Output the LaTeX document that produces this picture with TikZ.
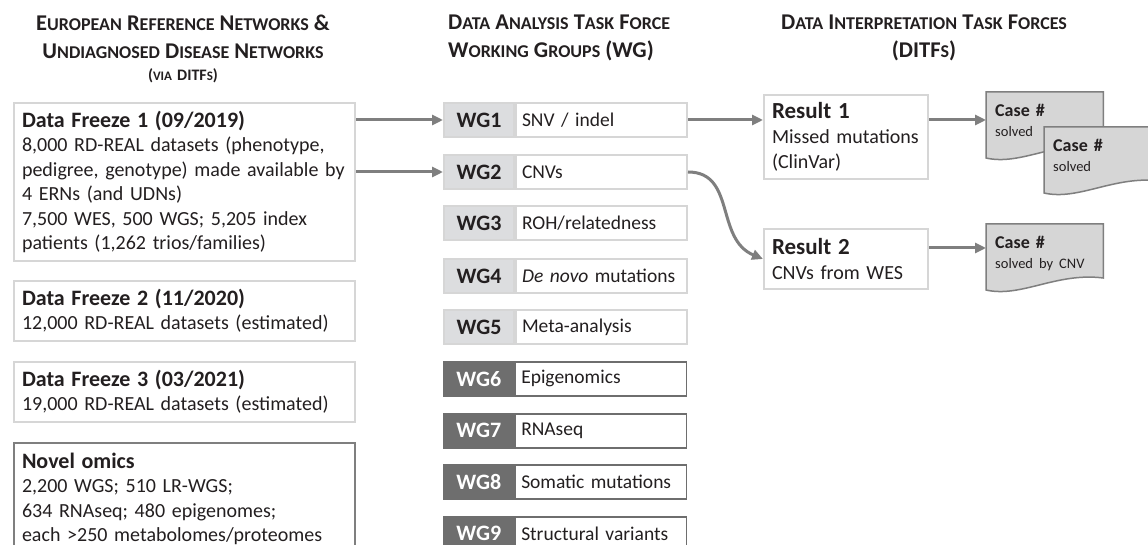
\documentclass[tikz,border=0pt]{standalone}
\usepackage{fontspec}
\setmainfont{Carlito}
\usetikzlibrary{arrows.meta,backgrounds,calc}
\definecolor{lb}{HTML}{D6D6D6}
\definecolor{lf}{HTML}{DCDDDF}
\definecolor{dk}{HTML}{6E6E6E}
\definecolor{ar}{HTML}{7F7F7F}
\definecolor{tx}{HTML}{231F20}
\definecolor{docf}{HTML}{D6D6D6}
\newcommand\hsc[2]{{\fontsize{22.5}{28}\selectfont#1}{\fontsize{18}{28}\selectfont#2}}
\newcommand\bt[1]{{\bfseries\fontsize{22}{24.4}\selectfont #1}}
\newcommand\rt[1]{{\bfseries\fontsize{23}{25}\selectfont #1}}
\newcommand\sv[1]{{\mdseries\fontsize{14.5}{18}\selectfont #1}}
\newcommand\docshape[1]{\filldraw[docsty] (#1.north west) -- (#1.north east) -- ([yshift=-54pt]#1.north east) .. controls ([xshift=-47pt,yshift=-48pt]#1.north east) and ([xshift=35pt,yshift=-74pt]#1.north west) .. ([yshift=-66pt]#1.north west) -- cycle;}
\tikzset{
  hdr/.style={align=center, inner sep=0pt, font=\bfseries\fontsize{22.5}{28}\selectfont},
  dfbox/.style={draw=lb, line width=2pt, fill=white, text width=325pt, inner xsep=8pt, align=left, anchor=north west, font=\fontsize{20}{24.4}\selectfont, minimum width=341pt},
  wgl/.style={minimum width=70pt, minimum height=34pt, inner sep=0pt, font=\bfseries\fontsize{22}{24}\selectfont, anchor=north west},
  wglight/.style={wgl, fill=lf, draw=lb, line width=2pt},
  wgdark/.style={wgl, fill=dk, draw=dk, text=white, line width=1.5pt},
  wgd/.style={minimum width=171pt, minimum height=34pt, inner xsep=6pt, inner ysep=0pt, text width=159pt, align=left, anchor=west, font=\fontsize{19.5}{22}\selectfont, fill=white},
  wgdlight/.style={wgd, draw=lb, line width=2pt},
  wgddark/.style={wgd, draw=dk, line width=1.5pt},
  res/.style={draw=lb, line width=2pt, fill=white, minimum width=164pt, text width=148pt, inner xsep=8pt, align=left, anchor=north west, font=\fontsize{20}{25}\selectfont},
  arr/.style={draw=ar, line width=3pt, -{Triangle[length=11pt,width=10pt]}},
  doc/.style={anchor=north west, minimum width=117pt, inner xsep=9pt, inner ysep=12pt, align=left, text width=99pt, font=\bfseries\fontsize{18}{20}\selectfont},
  docsty/.style={fill=docf, draw=ar, line width=1.5pt}
}
\begin{document}
\begin{tikzpicture}[x=1pt,y=-1pt, every node/.append style={text=tx}]
\path[use as bounding box] (0,0) rectangle (1148,545);
\clip (0,0) rectangle (1148,545);
\begin{pgfonlayer}{background}
\fill[white] (0,0) rectangle (1148,545);
\end{pgfonlayer}

% headers
\node[hdr, anchor=north] (h1) at (183,15) {\hsc{E}{UROPEAN} \hsc{R}{EFERENCE} \hsc{N}{ETWORKS} \&\\ \hsc{U}{NDIAGNOSED} \hsc{D}{ISEASE} \hsc{N}{ETWORKS}\\[-6pt] {\fontsize{16}{18}\selectfont(}{\fontsize{13}{18}\selectfont VIA} {\fontsize{16}{18}\selectfont DITF}{\fontsize{13}{18}\selectfont S}{\fontsize{16}{18}\selectfont)}};
\node[hdr, align=left, anchor=north west] (h2) at (448,15) {\hsc{D}{ATA} \hsc{A}{NALYSIS} \hsc{T}{ASK} \hsc{F}{ORCE}\\ \hsc{W}{ORKING} \hsc{G}{ROUPS} (WG)};
\node[hdr, anchor=north] (h3) at (924,15) {\hsc{D}{ATA} \hsc{I}{NTERPRETATION} \hsc{T}{ASK} \hsc{F}{ORCES}\\ (DITF\hsc{}{S})};

% data freeze boxes
\node[dfbox, minimum height=158pt] (df1) at (13,102) {\bt{Data Freeze 1 (09/2019)}\\ 8,000 RD-REAL datasets (phenotype,\\ pedigree, genotype) made available by\\ 4 ERNs (and UDNs)\\ 7,500 WES, 500 WGS; 5,205 index\\ patients (1,262 trios/families)};
\node[dfbox, minimum height=60pt] (df2) at (13,280) {\bt{Data Freeze 2 (11/2020)}\\ 12,000 RD-REAL datasets (estimated)};
\node[dfbox, minimum height=60pt] (df3) at (13,361) {\bt{Data Freeze 3 (03/2021)}\\ 19,000 RD-REAL datasets (estimated)};
\node[dfbox, draw=ar, minimum height=140pt] (nov) at (13,442) {\bt{Novel omics}\\ 2,200 WGS; 510 LR-WGS;\\ 634 RNAseq; 480 epigenomes;\\ each >250 metabolomes/proteomes\\ \strut};

% working groups
\node[wglight] (wg1l) at (443,102) {WG1};
\node[wgdlight] (wg1d) at (wg1l.east) {SNV / indel};
\node[wglight] (wg2l) at (443,154) {WG2};
\node[wgdlight] (wg2d) at (wg2l.east) {CNVs};
\node[wglight] (wg3l) at (443,205) {WG3};
\node[wgdlight] (wg3d) at (wg3l.east) {ROH/relatedness};
\node[wglight] (wg4l) at (443,258) {WG4};
\node[wgdlight] (wg4d) at (wg4l.east) {\mbox{\textit{De novo} mutations}};
\node[wglight] (wg5l) at (443,309) {WG5};
\node[wgdlight] (wg5d) at (wg5l.east) {Meta-analysis};
\node[wgdark] (wg6l) at (443,361) {WG6};
\node[wgddark] (wg6d) at (wg6l.east) {Epigenomics};
\node[wgdark] (wg7l) at (443,413) {WG7};
\node[wgddark] (wg7d) at (wg7l.east) {RNAseq};
\node[wgdark] (wg8l) at (443,464) {WG8};
\node[wgddark] (wg8d) at (wg8l.east) {Somatic mutations};
\node[wgdark] (wg9l) at (443,516) {WG9};
\node[wgddark] (wg9d) at (wg9l.east) {Structural variants};

% results
\node[res, minimum height=84pt] (r1) at (763,94) {\rt{Result 1}\\ Missed mutations\\ (ClinVar)};
\node[res, minimum height=60pt] (r2) at (763,228) {\rt{Result 2}\\ CNVs from WES};

% case documents
\node[doc] (c1) at (986,92) {Case \#\\ \sv{solved}};
\node[doc] (c2) at (1044,127) {Case \#\\ \sv{solved}};
\node[doc] (c3) at (986,224) {Case \#\\ \sv{solved by CNV}};
\begin{pgfonlayer}{background}
\docshape{c1}
\docshape{c2}
\docshape{c3}
\end{pgfonlayer}

% connectors
\coordinate (a3) at (0,248);
\draw[arr] (df1.east |- wg1l.west) -- (wg1l.west);
\draw[arr] (df1.east |- wg2l.west) -- (wg2l.west);
\draw[arr] (wg1d.east) -- (wg1d.east -| r1.west);
\draw[arr] (wg2d.east) .. controls ([xshift=48pt]wg2d.east) and ([xshift=-48pt,yshift=20pt]r2.west) .. (r2.west);
\draw[arr] (r1.east |- wg1d.east) -- (c1.west |- wg1d.east);
\draw[arr] (r2.east |- a3) -- (c3.west |- a3);
\end{tikzpicture}
\end{document}
